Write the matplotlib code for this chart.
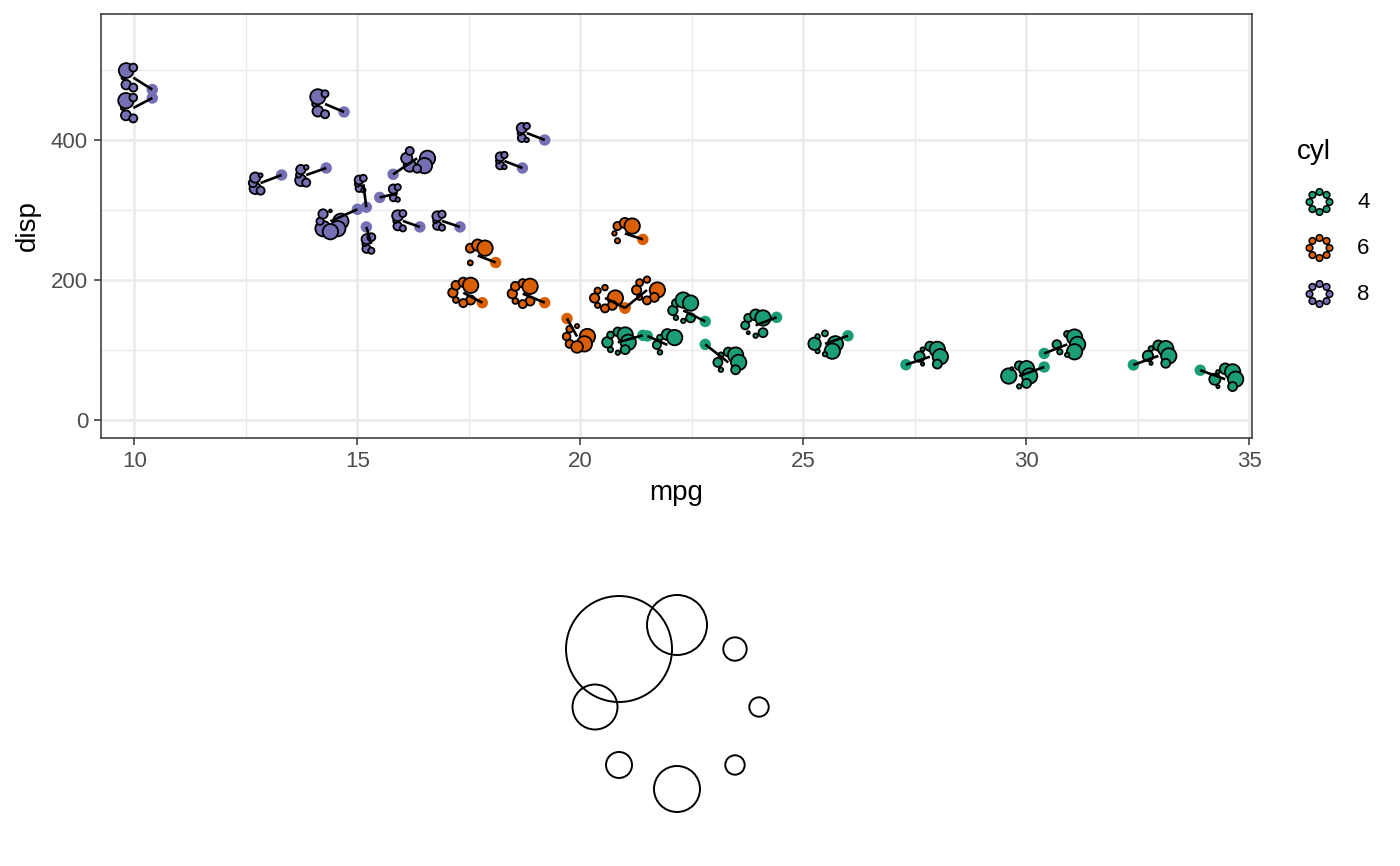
import matplotlib.pyplot as plt
import numpy as np
from matplotlib.patches import Circle

plt.rcParams['font.family'] = ['Liberation Sans', 'DejaVu Sans']

# mtcars
cars = ["Mazda RX4", "Mazda RX4 Wag", "Datsun 710", "Hornet 4 Drive", "Hornet Sportabout",
        "Valiant", "Duster 360", "Merc 240D", "Merc 230", "Merc 280", "Merc 280C",
        "Merc 450SE", "Merc 450SL", "Merc 450SLC", "Cadillac Fleetwood", "Lincoln Continental",
        "Chrysler Imperial", "Fiat 128", "Honda Civic", "Toyota Corolla", "Toyota Corona",
        "Dodge Challenger", "AMC Javelin", "Camaro Z28", "Pontiac Firebird", "Fiat X1-9",
        "Porsche 914-2", "Lotus Europa", "Ford Pantera L", "Ferrari Dino", "Maserati Bora",
        "Volvo 142E"]
mpg = [21.0, 21.0, 22.8, 21.4, 18.7, 18.1, 14.3, 24.4, 22.8, 19.2, 17.8, 16.4, 17.3, 15.2,
       10.4, 10.4, 14.7, 32.4, 30.4, 33.9, 21.5, 15.5, 15.2, 13.3, 19.2, 27.3, 26.0, 30.4,
       15.8, 19.7, 15.0, 21.4]
cyl = [6, 6, 4, 6, 8, 6, 8, 4, 4, 6, 6, 8, 8, 8, 8, 8, 8, 4, 4, 4, 4, 8, 8, 8, 8, 4, 4, 4,
       8, 6, 8, 4]
disp = [160, 160, 108, 258, 360, 225, 360, 146.7, 140.8, 167.6, 167.6, 275.8, 275.8, 275.8,
        472, 460, 440, 78.7, 75.7, 71.1, 120.1, 318, 304, 350, 400, 79, 120.3, 95.1, 351,
        145, 301, 121]
hp = [110, 110, 93, 110, 175, 105, 245, 62, 95, 123, 123, 180, 180, 180, 205, 215, 230, 66,
      52, 65, 97, 150, 150, 245, 175, 66, 91, 113, 264, 175, 335, 109]
drat = [3.90, 3.90, 3.85, 3.08, 3.15, 2.76, 3.21, 3.69, 3.92, 3.92, 3.92, 3.07, 3.07, 3.07,
        2.93, 3.00, 3.23, 4.08, 4.93, 4.22, 3.70, 2.76, 3.15, 3.73, 3.08, 4.08, 4.43, 3.77,
        4.22, 3.62, 3.54, 4.11]
wt = [2.620, 2.875, 2.320, 3.215, 3.440, 3.460, 3.570, 3.190, 3.150, 3.440, 3.440, 4.070,
      3.730, 3.780, 5.250, 5.424, 5.345, 2.200, 1.615, 1.835, 2.465, 3.520, 3.435, 3.840,
      3.845, 1.935, 2.140, 1.513, 3.170, 2.770, 3.570, 2.780]
qsec = [16.46, 17.02, 18.61, 19.44, 17.02, 20.22, 15.84, 20.00, 22.90, 18.30, 18.90, 17.40,
        17.60, 18.00, 17.98, 17.82, 17.42, 19.47, 18.52, 19.90, 20.01, 16.87, 17.30, 15.41,
        17.05, 18.90, 16.70, 16.90, 14.50, 15.50, 14.60, 18.60]
vs = [0, 0, 1, 1, 0, 1, 0, 1, 1, 1, 1, 0, 0, 0, 0, 0, 0, 1, 1, 1, 1, 0, 0, 0, 0, 1, 0, 1,
      0, 0, 0, 1]
am = [1, 1, 1, 0, 0, 0, 0, 0, 0, 0, 0, 0, 0, 0, 0, 0, 0, 1, 1, 1, 0, 0, 0, 0, 0, 1, 1, 1,
      1, 1, 1, 1]
gear = [4, 4, 4, 3, 3, 3, 3, 4, 4, 4, 4, 3, 3, 3, 3, 3, 3, 4, 4, 4, 3, 3, 3, 3, 3, 4, 5, 5,
        5, 5, 5, 4]
carb = [4, 4, 1, 1, 2, 1, 4, 2, 2, 4, 4, 3, 3, 3, 4, 4, 4, 1, 2, 1, 1, 2, 2, 4, 2, 1, 2, 2,
        4, 6, 8, 2]

glyph_vars = [hp, drat, wt, qsec, vs, am, gear, carb]
cyl_levels = [4, 6, 8]
# radii (px) of the reference glyph drawn under the plot
key_radii = [13, 22.5, 53, 30, 11.7, 9.7, 9.7, 23]

# ---- layout / style ----
W, H = 1400, 866
palette = {4: "#1B9E77", 6: "#D95F02", 8: "#7570B3"}
# where each glyph sits relative to its point, in pixels (y down)
glyph_offsets = [(-20, -10), (22, -18), (23, 18), (-18, -6), (-18, -7), (-18, -7), (-20, 7),
                 (-21, 8), (-22, -11), (-22, -9), (-19, -10), (-17, -6), (-18, -6), (5, 17),
                 (-19, -12), (-19, 10), (-19, -8), (25, -9), (-25, 9), (25, 9), (20, 9),
                 (18, -4), (-3, -23), (-21, 8), (-18, -7), (24, -8), (-23, 8), (23, -9),
                 (24, -16), (10, 18), (-27, 12), (-25, 7)]


def rescale(v):
    v = np.asarray(v, dtype=float)
    return (v - v.min()) / (v.max() - v.min())


def draw_glyph(ax, cx, cy, radii, face, lw, ring=None):
    radii = np.asarray(radii, dtype=float)
    if ring is None:
        ring = 1.35 * radii.max()
    for i, r in enumerate(radii):
        if r <= 0:
            continue
        a = np.deg2rad(225 - 45 * i)
        ax.add_patch(Circle((cx + ring * np.cos(a), cy - ring * np.sin(a)), r,
                            facecolor=face, edgecolor="black", lw=lw))


fig = plt.figure(figsize=(W / 100, H / 100), dpi=100)
ax = fig.add_axes([101 / W, 1 - 438 / H, 1151 / W, 424 / H])
ax.set_xlim(9.25, 35.06)
ax.set_ylim(-25.7, 580)

ax.set_xticks([10, 15, 20, 25, 30, 35])
ax.set_xticks(np.arange(12.5, 35, 5), minor=True)
ax.set_yticks([0, 200, 400])
ax.set_yticks([100, 300, 500], minor=True)
ax.grid(True, which="major", color="#EBEBEB", lw=1.9)
ax.grid(True, which="minor", color="#EBEBEB", lw=0.95)
ax.set_axisbelow(True)
for s in ax.spines.values():
    s.set_color("#333333")
    s.set_linewidth(1.1)
ax.tick_params(which="major", length=4.8, width=1.1, color="#333333",
               labelsize=16, labelcolor="#4D4D4D", pad=4.5)
ax.tick_params(which="minor", length=0)

colors = [palette[c] for c in cyl]
ax.scatter(mpg, disp, s=68, c=colors, linewidths=0, zorder=3)

fig.text(676 / W, 1 - 493 / H, "mpg", ha="center", va="center", fontsize=20)
fig.text(28 / W, 1 - 226 / H, "disp", ha="center", va="center", fontsize=20, rotation=90)

# overlay in pixel units for glyphs, legend and key
ov = fig.add_axes([0, 0, 1, 1])
ov.set_xlim(0, W)
ov.set_ylim(H, 0)
ov.axis("off")

scaled = np.column_stack([rescale(v) for v in glyph_vars])
sizes = np.where(scaled > 0, 1.3 + 6.4 * scaled, 0)
pts = ax.transData.transform(np.column_stack([mpg, disp]))
for k in range(len(cars)):
    px, py = pts[k, 0], H - pts[k, 1]
    gx, gy = px + glyph_offsets[k][0], py + glyph_offsets[k][1]
    ov.plot([px, gx], [py, gy], color="black", lw=1.9, solid_capstyle="butt", zorder=2)
    draw_glyph(ov, gx, gy, sizes[k], palette[cyl[k]], lw=1.3)

# legend
ov.text(1297, 152, "cyl", ha="left", va="center", fontsize=20)
for j, lev in enumerate(cyl_levels):
    yy = 202 + 46 * j
    draw_glyph(ov, 1319.5, yy, [3.3] * 8, palette[lev], lw=1.1, ring=10)
    ov.text(1357, yy, str(lev), ha="left", va="center", fontsize=16)

# reference glyph
draw_glyph(ov, 677, 707, key_radii, "none", lw=1.4, ring=82)

fig.savefig("out.png", dpi=100)
